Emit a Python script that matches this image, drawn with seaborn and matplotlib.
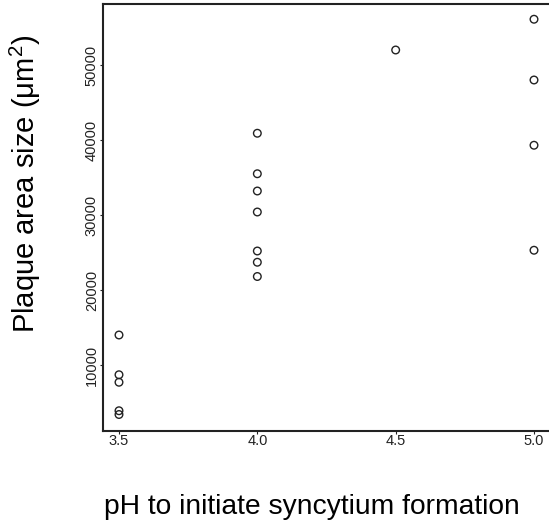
import matplotlib
matplotlib.use("Agg")
import matplotlib.pyplot as plt
import seaborn as sns
import pandas as pd

ph_35 = [3.5, 3.5, 3.5, 3.5, 3.5]
area_35 = [14000, 8700, 7700, 3900, 3400]
ph_40 = [4.0] * 7
area_40 = [40900, 35500, 33200, 30400, 25200, 23700, 21800]
ph_45 = [4.5]
area_45 = [52000]
ph_50 = [5.0] * 4
area_50 = [56100, 48000, 39300, 25300]

x_ticks = [3.5, 4.0, 4.5, 5.0]
x_tick_labels = ["3.5", "4.0", "4.5", "5.0"]
y_ticks = [10000, 20000, 30000, 40000, 50000]
y_tick_labels = ["10000", "20000", "30000", "40000", "50000"]

df = pd.DataFrame({
    "pH": ph_35 + ph_40 + ph_45 + ph_50,
    "area": area_35 + area_40 + area_45 + area_50,
})

sns.set_style("white")
plt.rcParams["font.family"] = ["Liberation Sans", "DejaVu Sans"]
plt.rcParams["mathtext.fontset"] = "custom"
plt.rcParams["mathtext.rm"] = "Liberation Sans"
plt.rcParams["mathtext.it"] = "Liberation Sans"

fig = plt.figure(figsize=(5.49, 5.26), dpi=100)
ax = fig.add_axes([103 / 549, 1 - 431 / 526, (549 - 103) / 549, (431 - 4) / 526])

sns.scatterplot(data=df, x="pH", y="area", ax=ax, marker="o", s=30,
                facecolor="none", edgecolor="#222222", linewidth=1.0)

ax.set_xlim(3.4422, 5.0542)
ax.set_ylim(1200, 58133)
ax.set_xticks(x_ticks)
ax.set_xticklabels(x_tick_labels)
ax.set_yticks(y_ticks)
ax.set_yticklabels(y_tick_labels, rotation=90, va="center")
ax.tick_params(axis="both", labelsize=10.5, length=2, width=0.8, pad=1,
               direction="out", colors="#222222", labelcolor="#222222")
ax.tick_params(axis="x", bottom=True, pad=0)
ax.tick_params(axis="y", left=True)
ax.set_xlabel("")
ax.set_ylabel("")
for side in ["left", "bottom", "top"]:
    ax.spines[side].set_color("#222222")
    ax.spines[side].set_linewidth(1.5)
ax.spines["right"].set_visible(False)

fig.text(25 / 549, 1 - 184 / 526, "Plaque area size (μm$^{\\mathrm{2}}$)", rotation=90,
         ha="center", va="center", fontsize=21, color="black")
fig.text(312 / 549, 1 - 514 / 526, "pH to initiate syncytium formation",
         ha="center", va="baseline", fontsize=20.3, color="black")

fig.savefig("out.png", dpi=100)
